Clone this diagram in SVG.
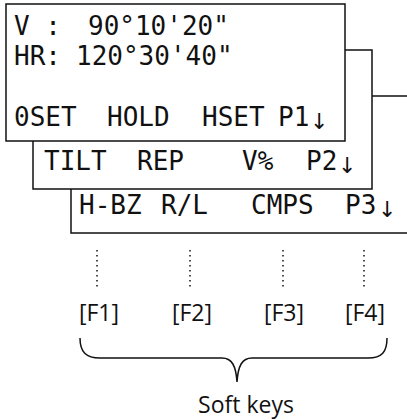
<svg xmlns="http://www.w3.org/2000/svg" width="407" height="420" viewBox="0 0 407 420">
<style>
.box{fill:#fff;stroke:#111;stroke-width:1.5}
.ln{fill:none;stroke:#111;stroke-width:1.5}
.lcd{font-family:"DejaVu Sans Mono",monospace;font-size:26px;fill:#111}
.arr{font-family:"DejaVu Sans",sans-serif;font-size:22px;fill:#111}
.key{font-family:"Open Sans",sans-serif;font-size:23px;fill:#111;text-anchor:middle}
.dot{fill:none;stroke:#111;stroke-width:1.5;stroke-dasharray:1.5 3.5}
</style>
<rect width="407" height="420" fill="#fff"/>
<g id="screen3">
<path class="ln" d="M407,233 L71,233 L71,96 L407,96"/>
<text class="lcd" x="79" y="214">H-BZ</text>
<text class="lcd" x="161" y="214">R/L</text>
<text class="lcd" x="251" y="214">CMPS</text>
<text class="lcd" x="345" y="214">P3</text>
<text class="arr" x="378" y="217">↓</text>
</g>
<g id="screen2">
<rect class="box" x="33" y="50" width="339" height="139"/>
<text class="lcd" x="44" y="170">TILT</text>
<text class="lcd" x="137" y="170">REP</text>
<text class="lcd" x="242" y="170">V%</text>
<text class="lcd" x="306" y="170">P2</text>
<text class="arr" x="338" y="173">↓</text>
</g>
<g id="screen1">
<rect class="box" x="6" y="4" width="339" height="137"/>
<text class="lcd" x="14" y="35" xml:space="preserve">V :</text>
<text class="lcd" x="88" y="35">90°10'20"</text>
<text class="lcd" x="14" y="65">HR:</text>
<text class="lcd" x="76" y="65">120°30'40"</text>
<text class="lcd" x="14" y="126">0SET</text>
<text class="lcd" x="107" y="126">HOLD</text>
<text class="lcd" x="202" y="126">HSET</text>
<text class="lcd" x="278" y="126">P1</text>
<text class="arr" x="310" y="129">↓</text>
</g>
<g id="connectors">
<line class="dot" x1="97" y1="250" x2="97" y2="288"/>
<line class="dot" x1="190" y1="250" x2="190" y2="288"/>
<line class="dot" x1="283" y1="250" x2="283" y2="288"/>
<line class="dot" x1="364" y1="250" x2="364" y2="288"/>
<path class="ln" stroke-width="1.3" d="M80,338 C80,352 86,358 100,358 L222,358 C232,358 236,366 237,382 C238,366 242,358 252,358 L368,358 C382,358 387,352 387,338"/>
</g>
<g id="keys">
<text class="key" x="99" y="321">[F1]</text>
<text class="key" x="192" y="321">[F2]</text>
<text class="key" x="284" y="321">[F3]</text>
<text class="key" x="365" y="321">[F4]</text>
<text class="key" x="246" y="413">Soft keys</text>
</g>
</svg>
